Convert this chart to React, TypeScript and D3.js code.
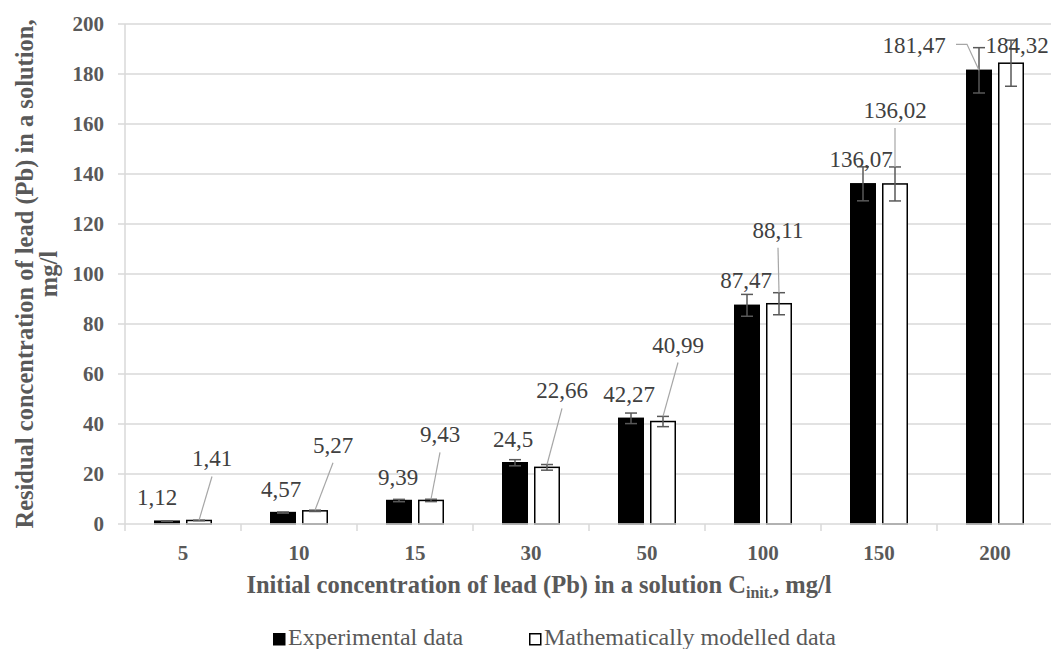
import * as d3 from "d3";

// chart values
const categories = ["5", "10", "15", "30", "50", "100", "150", "200"];
const experimental = [1.12, 4.57, 9.39, 24.5, 42.27, 87.47, 136.07, 181.47];
const modelled = [1.41, 5.27, 9.43, 22.66, 40.99, 88.11, 136.02, 184.32];
const experimentalError = [0.06, 0.23, 0.47, 1.23, 2.11, 4.37, 6.8, 9.07];
const modelledError = [0.07, 0.26, 0.47, 1.13, 2.05, 4.41, 6.8, 9.22];
const yTicks = [0, 20, 40, 60, 80, 100, 120, 140, 160, 180, 200];
const seriesNames = ["Experimental data", "Mathematically modelled data"];

// manual label placement (pixels from bar top centre), like the Excel original
const expLabelOffsets = [[-10, -16], [-2, -16], [-1, -16], [-2, -16], [-2, -16], [-1, -17], [-2, -17], [-65, -17]];
const modLabelOffsets = [[13, -54], [18, -58], [9, -58], [15, -69], [15, -69], [-1, -66], [0, -66], [6, -10]];
const modLeaders = [true, true, true, true, true, true, true, false];

const width = 1051;
const height = 649;
const margin = { top: 24, right: -2, bottom: 125, left: 125 };
const font = "'Liberation Serif', 'Times New Roman', serif";
const axisGrey = "#595959";
const gridGrey = "#d9d9d9";

const fmt = (v: number) => String(v).replace(".", ",");

export default function App() {
  const x = d3.scaleBand().domain(categories).range([margin.left, width - margin.right]);
  const x1 = d3.scaleBand().domain(seriesNames).range([29, 87]).paddingInner(0.1875);
  const y = d3.scaleLinear().domain([0, 200]).range([height - margin.bottom, margin.top]);

  const series = [
    { name: seriesNames[0], values: experimental, errors: experimentalError, fill: "#000" },
    { name: seriesNames[1], values: modelled, errors: modelledError, fill: "#fff" },
  ];

  const y0 = y(0);

  return (
    <svg width={width} height={height} fontFamily={font} style={{ position: "absolute", left: 0, top: 0 }}>
      <rect width={width} height={height} fill="#fff" />
      {/* grid */}
      {yTicks.map((t) => (
        <g key={t}>
          {t > 0 && <line x1={margin.left} x2={width} y1={y(t)} y2={y(t)} stroke={gridGrey} strokeWidth={1.5} />}
          <line x1={margin.left - 7} x2={margin.left} y1={y(t)} y2={y(t)} stroke={gridGrey} strokeWidth={1.5} />
          <text x={104} y={y(t)} dy="0.35em" textAnchor="end" fontWeight="bold" fontSize={21} fill={axisGrey} fontFamily={font}>
            {t}
          </text>
        </g>
      ))}
      <line x1={margin.left} x2={margin.left} y1={margin.top} y2={y0} stroke={gridGrey} strokeWidth={1.5} />

      {/* bars */}
      {series.map((s) =>
        categories.map((c, i) => {
          const bx = (x(c) as number) + (x1(s.name) as number);
          const bw = x1.bandwidth();
          const top = y(s.values[i]);
          return (
            <rect
              key={s.name + c}
              x={bx + 0.75}
              y={top}
              width={bw - 1.5}
              height={y0 - top}
              fill={s.fill}
              stroke="#000"
              strokeWidth={1.5}
            />
          );
        })
      )}

      {/* x axis */}
      <line x1={margin.left} x2={width} y1={y0} y2={y0} stroke={gridGrey} strokeWidth={1.5} />
      {categories.map((c) => (
        <g key={c}>
          <line x1={x(c)} x2={x(c)} y1={y0} y2={y0 + 7} stroke={gridGrey} strokeWidth={1.5} />
          <text x={(x(c) as number) + x.bandwidth() / 2} y={560} textAnchor="middle" fontWeight="bold" fontSize={21} fill={axisGrey} fontFamily={font}>
            {c}
          </text>
        </g>
      ))}

      {/* error bars */}
      {series.map((s) =>
        categories.map((c, i) => {
          const cx = (x(c) as number) + (x1(s.name) as number) + x1.bandwidth() / 2;
          const hi = y(s.values[i] + s.errors[i]);
          const lo = y(s.values[i] - s.errors[i]);
          return (
            <g key={"e" + s.name + c} stroke={axisGrey} strokeWidth={1.5}>
              <line x1={cx} x2={cx} y1={hi} y2={lo} />
              <line x1={cx - 6} x2={cx + 6} y1={hi} y2={hi} />
              <line x1={cx - 6} x2={cx + 6} y1={lo} y2={lo} />
            </g>
          );
        })
      )}

      {/* data labels */}
      {series.map((s, si) =>
        categories.map((c, i) => {
          const cx = (x(c) as number) + (x1(s.name) as number) + x1.bandwidth() / 2;
          const top = y(s.values[i]);
          const off = si === 0 ? expLabelOffsets[i] : modLabelOffsets[i];
          const lx = cx + off[0];
          const ly = top + off[1];
          let leader = null;
          if (si === 1 && modLeaders[i]) {
            leader = (
              <line x1={lx} y1={ly + 10} x2={cx} y2={y(s.values[i] + s.errors[i])} stroke="#a6a6a6" strokeWidth={1.2} />
            );
          }
          if (si === 0 && i === categories.length - 1) {
            leader = (
              <polyline
                points={`${lx + 42},${ly - 9} ${lx + 53},${ly - 9} ${cx},${top}`}
                fill="none"
                stroke="#a6a6a6"
                strokeWidth={1.2}
              />
            );
          }
          return (
            <g key={"l" + s.name + c}>
              {leader}
              <text x={lx} y={ly} textAnchor="middle" fontSize={23} fill="#404040" fontFamily={font}>
                {fmt(s.values[i])}
              </text>
            </g>
          );
        })
      )}

      {/* axis titles */}
      <text x={539} y={593} textAnchor="middle" fontWeight="bold" fontSize={24.5} fill={axisGrey} fontFamily={font}>
        Initial concentration of lead (Pb) in a solution C
        <tspan fontSize={16} dy={5}>init.</tspan>
        <tspan dy={-5}>, mg/l</tspan>
      </text>
      <text transform={`translate(33, 274) rotate(-90)`} textAnchor="middle" fontWeight="bold" fontSize={24.5} fill={axisGrey} fontFamily={font}>
        Residual concentration of lead (Pb) in a solution,
      </text>
      <text transform={`translate(57, 274) rotate(-90)`} textAnchor="middle" fontWeight="bold" fontSize={24.5} fill={axisGrey} fontFamily={font}>
        mg/l
      </text>

      {/* legend */}
      {seriesNames.map((n, i) => {
        const lx = i === 0 ? 273 : 529;
        return (
          <g key={n}>
            <rect x={lx + 0.75} y={633.75} width={11} height={11} fill={series[i].fill} stroke="#000" strokeWidth={1.5} />
            <text x={lx + 15} y={645} fontSize={24} fill={axisGrey} fontFamily={font}>
              {n}
            </text>
          </g>
        );
      })}
    </svg>
  );
}
